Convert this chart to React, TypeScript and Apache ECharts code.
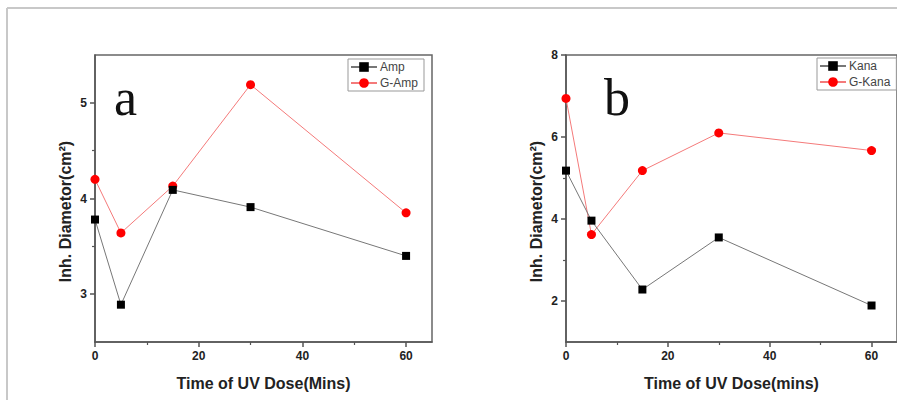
import React, { useEffect, useRef } from "react";
import * as echarts from "echarts";

const doses = [0, 5, 15, 30, 60];
const amp = [3.78, 2.89, 4.09, 3.91, 3.4];
const gAmp = [4.2, 3.64, 4.13, 5.19, 3.85];
const kana = [5.18, 3.96, 2.28, 3.55, 1.89];
const gKana = [6.94, 3.62, 5.18, 6.1, 5.67];

const xTicks = [0, 20, 40, 60];
const xMinor = [10, 30, 50];
const yTicksA = [3, 4, 5];
const yMinorA = [3.5, 4.5];
const yTicksB = [2, 4, 6, 8];
const yMinorB = [3, 5, 7];

const yTitle = "Inh. Diametor(cm²)";
const xTitleA = "Time of UV Dose(Mins)";
const xTitleB = "Time of UV Dose(mins)";

const FONT = "Liberation Sans, Arial, sans-serif";

const pairs = (ys: number[]) => doses.map((d, i) => [d, ys[i]]);

function mainX(grid: number, name: string) {
  return {
    type: "value",
    gridIndex: grid,
    position: "bottom",
    min: 0,
    max: 65,
    name,
    nameLocation: "middle",
    nameGap: 33,
    nameTextStyle: { fontFamily: FONT, fontWeight: "bold", fontSize: 16, color: "#222" },
    axisLine: { show: true, onZero: false, lineStyle: { color: "#555", width: 1.5 } },
    axisTick: { show: true, inside: false, length: 5, customValues: xTicks, lineStyle: { color: "#555", width: 1.5 } },
    axisLabel: { show: true, customValues: xTicks, margin: 8, fontFamily: FONT, fontWeight: "bold", fontSize: 12, color: "#222" },
    splitLine: { show: false },
  };
}
function minorX(grid: number) {
  return {
    type: "value",
    gridIndex: grid,
    position: "bottom",
    min: 0,
    max: 65,
    axisLine: { show: false, onZero: false },
    axisTick: { show: true, length: 3, customValues: xMinor, lineStyle: { color: "#555", width: 1.2 } },
    axisLabel: { show: false },
    splitLine: { show: false },
  };
}
function mainY(grid: number, min: number, max: number, ticks: number[]) {
  return {
    type: "value",
    gridIndex: grid,
    position: "left",
    min,
    max,
    name: yTitle,
    nameLocation: "middle",
    nameRotate: 90,
    nameGap: 22,
    nameTextStyle: { fontFamily: FONT, fontWeight: "bold", fontSize: 16, color: "#222", padding: [0, 26, 0, 0] },
    axisLine: { show: true, onZero: false, lineStyle: { color: "#555", width: 1.5 } },
    axisTick: { show: true, length: 5, customValues: ticks, lineStyle: { color: "#555", width: 1.5 } },
    axisLabel: { show: true, customValues: ticks, margin: 8, fontFamily: FONT, fontWeight: "bold", fontSize: 12, color: "#222" },
    splitLine: { show: false },
  };
}
function minorY(grid: number, min: number, max: number, ticks: number[]) {
  return {
    type: "value",
    gridIndex: grid,
    position: "left",
    min,
    max,
    axisLine: { show: false, onZero: false },
    axisTick: { show: true, length: 3, customValues: ticks, lineStyle: { color: "#555", width: 1.2 } },
    axisLabel: { show: false },
    splitLine: { show: false },
  };
}

function blackSeries(name: string, ys: number[], xi: number, yi: number) {
  return {
    type: "line",
    name,
    xAxisIndex: xi,
    yAxisIndex: yi,
    data: pairs(ys),
    symbol: "rect",
    symbolSize: 8,
    lineStyle: { color: "#777", width: 1 },
    itemStyle: { color: "#000" },
    z: 3,
  };
}
function redSeries(name: string, ys: number[], xi: number, yi: number) {
  return {
    type: "line",
    name,
    xAxisIndex: xi,
    yAxisIndex: yi,
    data: pairs(ys),
    symbol: "circle",
    symbolSize: 9,
    lineStyle: { color: "#f47a7a", width: 1 },
    itemStyle: { color: "#ff0000" },
    z: 2,
  };
}

function legend(names: string[], left: number, top: number) {
  return {
    orient: "vertical",
    left,
    top,
    data: names,
    itemWidth: 26,
    itemHeight: 12,
    itemGap: 4,
    padding: [2, 6, 2, 2],
    borderColor: "#999",
    borderWidth: 1,
    backgroundColor: "#fff",
    textStyle: { fontFamily: FONT, fontSize: 12, color: "#444", padding: [0, 0, 0, -2] },
  };
}

export default function App() {
  const ref = useRef<HTMLDivElement>(null);
  useEffect(() => {
    if (!ref.current) return;
    const chart = echarts.init(ref.current, undefined, { renderer: "svg" });
    chart.setOption({
      animation: false,
      backgroundColor: "#fff",
      grid: [
        { left: 95, top: 55, width: 337, height: 287, show: true, borderColor: "#666", borderWidth: 1.5 },
        { left: 566, top: 55, width: 336, height: 287, show: true, borderColor: "#666", borderWidth: 1.5 },
      ],
      xAxis: [mainX(0, xTitleA), minorX(0), mainX(1, xTitleB), minorX(1)],
      yAxis: [
        mainY(0, 2.5, 5.5, yTicksA),
        minorY(0, 2.5, 5.5, yMinorA),
        mainY(1, 1, 8, yTicksB),
        minorY(1, 1, 8, yMinorB),
      ],
      legend: [legend(["Amp", "G-Amp"], 348, 59), legend(["Kana", "G-Kana"], 817, 58)],
      series: [
        blackSeries("Amp", amp, 0, 0),
        redSeries("G-Amp", gAmp, 0, 0),
        blackSeries("Kana", kana, 2, 2),
        redSeries("G-Kana", gKana, 2, 2),
      ],
      graphic: [
        { type: "line", shape: { x1: 7, y1: 8, x2: 897, y2: 8 }, style: { stroke: "#c8c8c8", lineWidth: 2 } },
        { type: "line", shape: { x1: 7, y1: 8, x2: 7, y2: 400 }, style: { stroke: "#c8c8c8", lineWidth: 2 } },
        {
          type: "text",
          x: 114,
          y: 71,
          style: { text: "a", font: "52px 'Liberation Serif', 'Times New Roman', serif", fill: "#111" },
        },
        {
          type: "text",
          x: 604,
          y: 71,
          style: { text: "b", font: "52px 'Liberation Serif', 'Times New Roman', serif", fill: "#111" },
        },
      ],
    });
    return () => chart.dispose();
  }, []);
  return <div ref={ref} style={{ position: "absolute", left: 0, top: 0, width: 897, height: 400 }} />;
}
